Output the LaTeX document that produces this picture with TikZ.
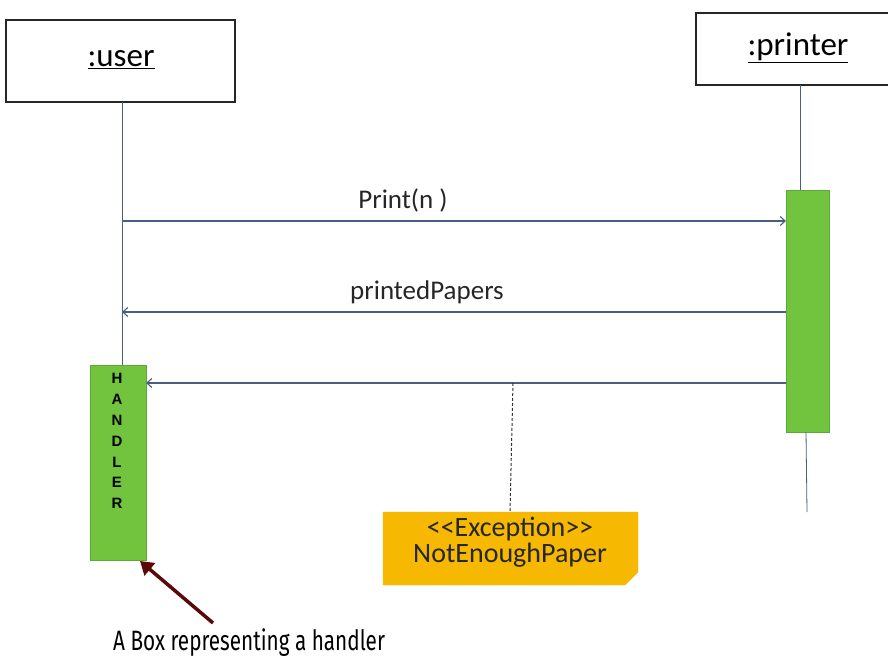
\documentclass[tikz,border=0pt]{standalone}
\usepackage{fontspec}
\setmainfont{Carlito}
\newfontfamily\arialfont{Liberation Sans}
\newfontfamily\capfont{Fira Sans}
\usetikzlibrary{arrows.meta}
\definecolor{actgreen}{HTML}{72C43E}
\definecolor{msgblue}{HTML}{4A5E7E}
\definecolor{notegold}{HTML}{F6B800}
\definecolor{darkred}{HTML}{5A0808}
\tikzset{
  objbox/.style={draw=black!85, line width=1.6pt, fill=white, inner sep=0pt},
  lifeline/.style={draw=msgblue, line width=0.8pt},
  actbox/.style={fill=actgreen, draw=actgreen!85!black, line width=0.4pt, inner sep=0pt},
  msg/.style={draw=msgblue, line width=1.1pt, -{Straight Barb[length=5pt,width=9pt]}},
  lbl/.style={font=\fontsize{27}{30}\selectfont, text=black!85},
}
\begin{document}
\begin{tikzpicture}[x=1pt,y=-1pt]
\useasboundingbox (0,0) rectangle (888,660);
% objects
\node[objbox, minimum width=229pt, minimum height=82pt] (user) at (120.5,61) {};
\node[font=\fontsize{33}{36}\selectfont] (userlbl) at (121,60) {\underline{:user}};
\draw[objbox] (888,13) -- (696,13) -- (696,85) -- (888,85);
\coordinate (printer) at (797,49);
\node[font=\fontsize{33}{36}\selectfont] (printerlbl) at (798,48) {\underline{:printer}};
% activations
\node[actbox, minimum width=43pt, minimum height=242pt] (pact) at (807.5,311) {};
\node[actbox, minimum width=56pt, minimum height=195pt] (handler) at (118,462.5) {};
\node[font=\arialfont\bfseries\fontsize{15}{20.8}\selectfont, align=center, anchor=north] (hlbl) at (117,370) {H\\A\\N\\D\\L\\E\\R};
% lifelines
\coordinate (ubot) at (122,365);
\coordinate (pll) at (800,85);
\coordinate (pend) at (807,512);
\draw[lifeline] (122,102) -- (ubot);
\draw[lifeline] (pll) -- (800,190);
\draw[lifeline] (806,432) -- (pend);
% messages
\coordinate (m1s) at (122,221);
\coordinate (m1e) at (786,221);
\draw[msg] (m1s) -- (m1e);
\node[lbl] (m1l) at (403,200) {Print(n )};
\coordinate (m2s) at (786,312);
\coordinate (m2e) at (122,312);
\draw[msg] (m2s) -- (m2e);
\node[lbl] (m2l) at (427,292) {printedPapers};
\coordinate (m3s) at (786,383);
\coordinate (m3e) at (146,383);
\draw[msg] (m3s) -- (m3e);
% exception note
\draw[fill=notegold, draw=notegold] (383,512) -- (638,512) -- (638,572) -- (625,585) -- (383,585) -- cycle;
\node[font=\fontsize{28}{26}\selectfont, align=center, text=black!85] (exc) at (510,542) {<{}<Exception>{}>\\NotEnoughPaper};
\coordinate (ntop) at (510,512);
\coordinate (mid) at (513,383);
\draw[black!80, line width=1pt, densely dashed] (mid) -- (ntop);
% caption and pointer
\node[font=\capfont\fontsize{28}{30}\selectfont, xscale=0.74, anchor=west, inner sep=0pt] (cap) at (113,643) {A Box representing a handler};
\coordinate (pstart) at (213,623);
\coordinate (ptip) at (140,561);
\draw[darkred, line width=3.5pt, -{Triangle[length=13pt,width=16pt]}] (pstart) -- (ptip);
\end{tikzpicture}
\end{document}
